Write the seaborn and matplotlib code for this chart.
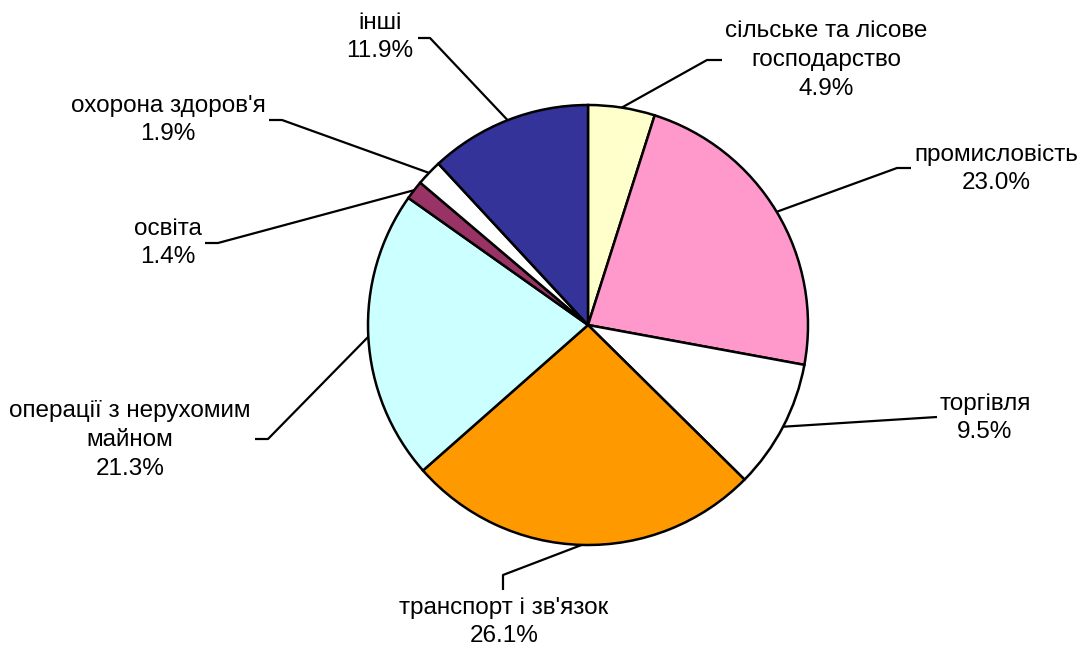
import numpy as np
import matplotlib
matplotlib.use("Agg")
import matplotlib.pyplot as plt
import seaborn as sns

# ---- data ----
categories = ["сільське та лісове\nгосподарство", "промисловість", "торгівля",
              "транспорт і зв'язок", "операції з нерухомим\nмайном", "освіта",
              "охорона здоров'я", "інші"]
shares = [4.9, 23.0, 9.5, 26.1, 21.3, 1.4, 1.9, 11.9]
colors = ["#FFFFCC", "#FF99CC", "#FFFFFF", "#FF9900", "#CCFFFF", "#993366",
          "#FFFFFF", "#333399"]

# ---- layout (pixel coordinates in a 1080x646 canvas) ----
W, H = 1080, 646
CX, CY, R = 588, 325, 220
# text block centre, elbow point, end of horizontal tick
text_pos = [(826, 60), (996, 169), (985, 418), (504, 622), (130, 440),
            (168, 243), (168, 120), (380, 37)]
elbow_pos = [(707, 60), (897, 168), (937, 417), (503, 575), (268, 439),
             (218, 243), (282, 120), (430, 38)]
tick_end = [(722, 60), (911, 168), (937, 417), (503, 590), (255, 439),
            (205, 243), (269, 120), (418, 38)]

sns.set_theme(style="white")
plt.rcParams["font.family"] = ["Liberation Sans", "DejaVu Sans"]

fig = plt.figure(figsize=(W / 100, H / 100), dpi=100)
ax = fig.add_axes([0, 0, 1, 1])

wedges, _ = ax.pie(shares, colors=colors, startangle=90, counterclock=False,
                   radius=1.0,
                   wedgeprops=dict(edgecolor="black", linewidth=1.8))


def px2d(p):
    return ((p[0] - CX) / R, (CY - p[1]) / R)


for w, cat, val, tp, ep, te in zip(wedges, categories, shares, text_pos,
                                    elbow_pos, tick_end):
    mid = np.deg2rad((w.theta1 + w.theta2) / 2)
    start = (np.cos(mid), np.sin(mid))
    e = px2d(ep)
    t = px2d(te)
    ax.plot([start[0], e[0], t[0]], [start[1], e[1], t[1]], color="black",
            lw=1.6, solid_capstyle="butt", zorder=0.5)
    tx, ty = px2d(tp)
    ax.text(tx, ty, f"{cat}\n{val:.1f}%", ha="center", va="center",
            fontsize=17.5, linespacing=1.39, color="black")

ax.set_xlim(-CX / R, (W - CX) / R)
ax.set_ylim((CY - H) / R, CY / R)
ax.set_aspect("equal", adjustable="box")
ax.axis("off")

fig.savefig("out.png", dpi=100, facecolor="white")
